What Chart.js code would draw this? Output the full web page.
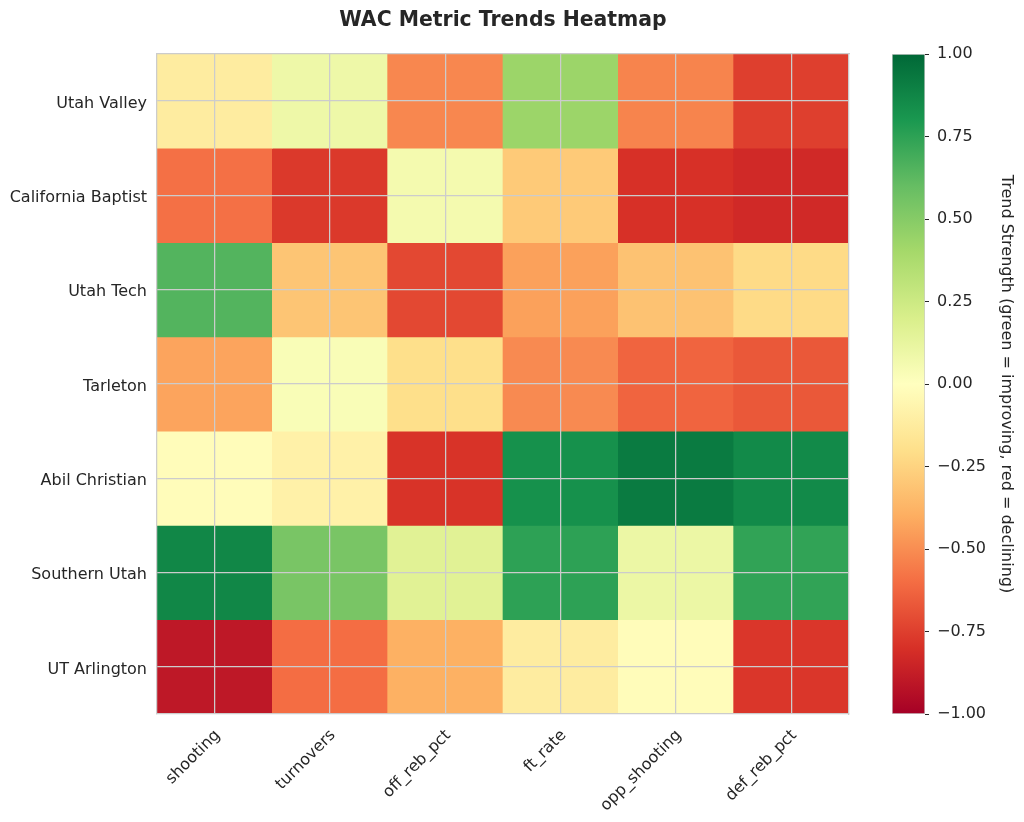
<!DOCTYPE html>
<html>
<head>
<meta charset="utf-8">
<script src="https://cdn.jsdelivr.net/npm/chart.js@4"></script>
<style>
  html, body { margin: 0; padding: 0; background: #ffffff; }
  body { width: 1024px; height: 822px; position: relative; overflow: hidden; }
  #mainWrap { position: absolute; left: 0; top: 0; width: 1006px; height: 822px; }
  #cbWrap { position: absolute; left: 860px; top: 0; width: 164px; height: 822px; }
</style>
</head>
<body>
<div id="mainWrap"><canvas id="main"></canvas></div>
<div id="cbWrap"><canvas id="cbar"></canvas></div>
<script>
// ---- data ----
const titleText = 'WAC Metric Trends Heatmap';
const colorbarLabel = 'Trend Strength (green = improving, red = declining)';
const teams = ['Utah Valley', 'California Baptist', 'Utah Tech', 'Tarleton', 'Abil Christian', 'Southern Utah', 'UT Arlington'];
const metrics = ['shooting', 'turnovers', 'off_reb_pct', 'ft_rate', 'opp_shooting', 'def_reb_pct'];
const utahValley        = [-0.12,  0.09, -0.52,  0.43, -0.53, -0.75];
const californiaBaptist = [-0.59, -0.77,  0.06, -0.29, -0.80, -0.83];
const utahTech          = [ 0.65, -0.31, -0.72, -0.44, -0.32, -0.22];
const tarleton          = [-0.43,  0.03, -0.20, -0.51, -0.63, -0.67];
const abilChristian     = [-0.02, -0.09, -0.79,  0.83,  0.92,  0.86];
const southernUtah      = [ 0.87,  0.54,  0.16,  0.75,  0.10,  0.74];
const utArlington       = [-0.90, -0.60, -0.39, -0.12, -0.02, -0.78];
const colorbarTicks = [-1, -0.75, -0.5, -0.25, 0, 0.25, 0.5, 0.75, 1];

const rows = [utahValley, californiaBaptist, utahTech, tarleton, abilChristian, southernUtah, utArlington];

// ---- colormap (RdYlGn) ----
const rdYlGn = [
  [165, 0, 38], [215, 48, 39], [244, 109, 67], [253, 174, 97], [254, 224, 139],
  [255, 255, 191], [217, 239, 139], [166, 217, 106], [102, 189, 99], [26, 152, 80], [0, 104, 55]
];
function colorFor(v) {
  const t = Math.max(0, Math.min(1, (v + 1) / 2)) * (rdYlGn.length - 1);
  const i = Math.min(Math.floor(t), rdYlGn.length - 2);
  const f = t - i;
  const a = rdYlGn[i], b = rdYlGn[i + 1];
  const c = a.map((x, k) => Math.round(x + (b[k] - x) * f));
  return `rgb(${c[0]},${c[1]},${c[2]})`;
}

const FONT = "'DejaVu Sans', 'Liberation Sans', sans-serif";
const TXT = '#262626';
const GRID = '#cccccc';
const FS = 16;

// ---- heatmap ----
const heatDatasets = teams.map((team, r) => ({
  label: team,
  data: metrics.map(() => [r - 0.5, r + 0.5]),
  backgroundColor: rows[r].map(colorFor),
  borderWidth: 0,
  grouped: false,
  barPercentage: 1,
  categoryPercentage: 1
}));

new Chart(document.getElementById('main'), {
  type: 'bar',
  data: { labels: metrics, datasets: heatDatasets },
  options: {
    responsive: true,
    maintainAspectRatio: false,
    animation: false,
    layout: { padding: 0 },
    plugins: {
      legend: { display: false },
      tooltip: { enabled: false },
      title: {
        display: true,
        text: titleText,
        color: TXT,
        font: { family: FONT, size: 20.4, weight: 'bold' },
        padding: { top: 8, bottom: 21.5 }
      }
    },
    scales: {
      x: {
        type: 'category',
        position: 'bottom',
        offset: true,
        grid: { offset: false, color: GRID, lineWidth: 1.25, drawTicks: false, z: 1 },
        border: { display: true, color: GRID, width: 1.25, z: 1 },
        ticks: {
          color: TXT, font: { family: FONT, size: FS },
          minRotation: 45, maxRotation: 45, padding: 12, labelOffset: 3, autoSkip: false
        },
        afterFit(s) { s.height = 108; }
      },
      x2: {
        type: 'category',
        position: 'top',
        offset: true,
        grid: { display: false },
        border: { display: true, color: GRID, width: 1.25, z: 1 },
        ticks: { display: false },
        afterFit(s) { s.height = 0; }
      },
      y: {
        type: 'linear',
        position: 'left',
        min: -0.5,
        max: teams.length - 0.5,
        reverse: true,
        afterBuildTicks(s) { s.ticks = teams.map((_, i) => ({ value: i })); },
        grid: { color: GRID, lineWidth: 1.25, drawTicks: false, z: 1 },
        border: { display: true, color: GRID, width: 1.25, z: 1 },
        ticks: {
          color: TXT, font: { family: FONT, size: FS }, padding: 10, autoSkip: false, labelOffset: 2.5,
          callback: (v) => teams[v]
        },
        afterFit(s) { s.width = 157; }
      },
      y2: {
        type: 'linear',
        position: 'right',
        min: -0.5,
        max: teams.length - 0.5,
        reverse: true,
        grid: { display: false },
        border: { display: true, color: GRID, width: 1.25, z: 1 },
        ticks: { display: false },
        afterFit(s) { s.width = 157; }
      }
    }
  }
});

// ---- colorbar ----
new Chart(document.getElementById('cbar'), {
  type: 'bar',
  data: {
    labels: ['scale'],
    datasets: [{
      data: [[colorbarTicks[0], colorbarTicks[colorbarTicks.length - 1]]],
      backgroundColor(ctx) {
        const chart = ctx.chart;
        if (!chart.chartArea) return 'rgba(0,0,0,0)';
        const ys = chart.scales.y;
        const g = chart.ctx.createLinearGradient(0, ys.getPixelForValue(-1), 0, ys.getPixelForValue(1));
        rdYlGn.forEach((c, k) => g.addColorStop(k / (rdYlGn.length - 1), `rgb(${c[0]},${c[1]},${c[2]})`));
        return g;
      },
      borderColor: GRID,
      borderWidth: 1,
      borderSkipped: false,
      barPercentage: 1,
      categoryPercentage: 1
    }]
  },
  options: {
    responsive: true,
    maintainAspectRatio: false,
    animation: false,
    layout: { padding: { left: 32, top: 54, bottom: 108, right: 0 } },
    plugins: { legend: { display: false }, tooltip: { enabled: false }, title: { display: false } },
    scales: {
      x: { display: false, offset: true },
      y: {
        type: 'linear',
        position: 'right',
        min: -1,
        max: 1,
        afterBuildTicks(s) { s.ticks = colorbarTicks.map(v => ({ value: v })); },
        grid: { display: true, drawOnChartArea: false, drawTicks: true, tickLength: 4, tickColor: TXT, tickWidth: 1 },
        border: { display: false },
        ticks: {
          color: TXT, font: { family: FONT, size: FS }, padding: 8,
          callback: (v) => (v < 0 ? '\u2212' : '') + Math.abs(v).toFixed(2)
        },
        title: {
          display: true,
          text: colorbarLabel,
          color: TXT,
          font: { family: FONT, size: FS },
          padding: { top: 8, bottom: 8 }
        },
        afterFit(s) { s.width = 99; }
      }
    }
  }
});
</script>
</body>
</html>
